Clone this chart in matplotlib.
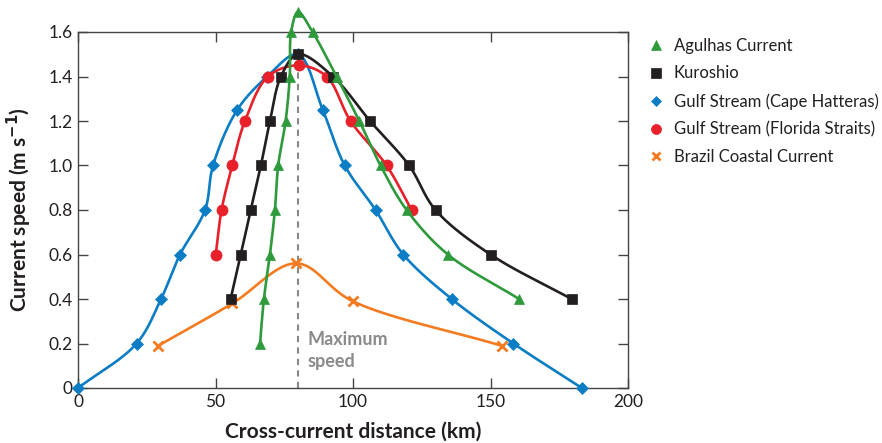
import numpy as np
import matplotlib.pyplot as plt
from matplotlib.lines import Line2D

plt.rcParams['font.family'] = ['Lato', 'DejaVu Sans']

# Agulhas Current
agul_x = [66.2, 67.6, 69.8, 71.6, 72.8, 75.5, 77.0, 77.5, 80.0, 85.3, 94.0, 102.3, 110.0, 119.5, 134.5, 160.4]
agul_y = [0.2, 0.4, 0.6, 0.8, 1.0, 1.2, 1.4, 1.6, 1.69, 1.6, 1.4, 1.2, 1.0, 0.8, 0.6, 0.4]
# Kuroshio
kuro_x = [55.5, 59.2, 62.8, 66.5, 69.8, 73.8, 80.0, 92.7, 106.2, 120.4, 130.0, 150.0, 179.5]
kuro_y = [0.4, 0.6, 0.8, 1.0, 1.2, 1.4, 1.5, 1.4, 1.2, 1.0, 0.8, 0.6, 0.4]
# Gulf Stream (Cape Hatteras)
gsch_x = [0.0, 21.3, 30.2, 37.1, 46.2, 49.1, 57.9, 68.8, 80.0, 89.0, 97.0, 108.2, 118.3, 135.9, 158.3, 183.2]
gsch_y = [0.0, 0.2, 0.4, 0.6, 0.8, 1.0, 1.25, 1.4, 1.5, 1.25, 1.0, 0.8, 0.6, 0.4, 0.2, 0.0]
# Gulf Stream (Florida Straits)
gsfs_x = [50.1, 52.2, 56.1, 60.7, 69.1, 80.2, 90.4, 99.1, 112.2, 121.3]
gsfs_y = [0.6, 0.8, 1.0, 1.2, 1.4, 1.45, 1.4, 1.2, 1.0, 0.8]
# Brazil Coastal Current
braz_x = [29.2, 56.1, 79.4, 99.9, 154.0]
braz_y = [0.19, 0.38, 0.56, 0.39, 0.19]

x_ticks = [0, 50, 100, 150, 200]
y_ticks = [0, 0.2, 0.4, 0.6, 0.8, 1.0, 1.2, 1.4, 1.6]
y_tick_labels = ['0', '0.2', '0.4', '0.6', '0.8', '1.0', '1.2', '1.4', '1.6']

c_green = '#2e9a3c'
c_black = '#231f20'
c_blue = '#0a7dc4'
c_red = '#e8202a'
c_orange = '#f47b20'


def smooth(x, y, sx=550 / 200.0, sy=222.5, n=30):
    # centripetal catmull-rom through the points, just for the drawn line
    p = np.column_stack([np.array(x) * sx, np.array(y) * sy])
    p = np.vstack([2 * p[0] - p[1], p, 2 * p[-1] - p[-2]])
    out = []
    for i in range(1, len(p) - 2):
        p0, p1, p2, p3 = p[i - 1], p[i], p[i + 1], p[i + 2]
        t0 = 0.0
        t1 = t0 + np.linalg.norm(p1 - p0) ** 0.5 + 1e-9
        t2 = t1 + np.linalg.norm(p2 - p1) ** 0.5 + 1e-9
        t3 = t2 + np.linalg.norm(p3 - p2) ** 0.5 + 1e-9
        t = np.linspace(t1, t2, n)[:, None]
        a1 = (t1 - t) / (t1 - t0) * p0 + (t - t0) / (t1 - t0) * p1
        a2 = (t2 - t) / (t2 - t1) * p1 + (t - t1) / (t2 - t1) * p2
        a3 = (t3 - t) / (t3 - t2) * p2 + (t - t2) / (t3 - t2) * p3
        b1 = (t2 - t) / (t2 - t0) * a1 + (t - t0) / (t2 - t0) * a2
        b2 = (t3 - t) / (t3 - t1) * a2 + (t - t1) / (t3 - t1) * a3
        c = (t2 - t) / (t2 - t1) * b1 + (t - t1) / (t2 - t1) * b2
        out.append(c)
    out = np.vstack(out)
    return out[:, 0] / sx, out[:, 1] / sy


fig = plt.figure(figsize=(8.82, 4.43), dpi=100)
ax = fig.add_axes([78 / 882, 55 / 443, 550 / 882, 356 / 443])

ax.plot([80, 80], [0, 1.5], color='#888888', linestyle=(0, (3, 2.5)), linewidth=1.5, zorder=1)

# drawing order (bottom to top)
series = {
    'brazil': (braz_x, braz_y, c_orange, 'x', 7, 'Brazil Coastal Current'),
    'hatteras': (gsch_x, gsch_y, c_blue, 'D', 6, 'Gulf Stream (Cape Hatteras)'),
    'florida': (gsfs_x, gsfs_y, c_red, 'o', 8, 'Gulf Stream (Florida Straits)'),
    'kuroshio': (kuro_x, kuro_y, c_black, 's', 7.5, 'Kuroshio'),
    'agulhas': (agul_x, agul_y, c_green, '^', 7.5, 'Agulhas Current'),
}
for i, (xs, ys, col, mk, ms, lab) in enumerate(series.values()):
    lx, ly = smooth(xs, ys)
    ax.plot(lx, ly, color=col, linewidth=1.9, zorder=2 + i, clip_on=False)
    ax.plot(xs, ys, linestyle='none', marker=mk, markersize=ms, color=col,
            markeredgewidth=2 if mk == 'x' else 0.5, zorder=2 + i, clip_on=False)

ax.text(83.5, 0.255, 'Maximum\nspeed', color='#8a8a8a', fontsize=13, fontweight='bold',
        ha='left', va='top', linespacing=1.35)

ax.set_xlim(0, 200)
ax.set_ylim(0, 1.6)
ax.set_xticks(x_ticks)
ax.set_yticks(y_ticks)
ax.set_yticklabels(y_tick_labels)
ax.tick_params(direction='in', length=7, width=1, color='#444444', labelsize=12.5,
               top=True, right=True, pad=4, labelcolor='#231f20')
for s in ax.spines.values():
    s.set_color('#444444')
    s.set_linewidth(1)

ax.set_xlabel('Cross-current distance (km)', fontsize=15, fontweight='bold', labelpad=9,
              color='#231f20')
ax.set_ylabel('Current speed (m s$^{\\mathbf{-1}}$)', fontsize=15, fontweight='bold', labelpad=10,
              color='#231f20')

legend_order = ['agulhas', 'kuroshio', 'hatteras', 'florida', 'brazil']
handles = [Line2D([], [], linestyle='none', marker=series[k][3], color=series[k][2],
                  markersize=series[k][4] * 0.9,
                  markeredgewidth=2 if series[k][3] == 'x' else 0.5) for k in legend_order]
labels = [series[k][5] for k in legend_order]
fig.legend(handles, labels, loc='upper left', bbox_to_anchor=(641 / 882, 1 - 31 / 443),
           frameon=False, fontsize=12, handlelength=1, handletextpad=0.55, labelspacing=0.7,
           borderaxespad=0, labelcolor='#231f20')

fig.savefig('out.png', dpi=100)
